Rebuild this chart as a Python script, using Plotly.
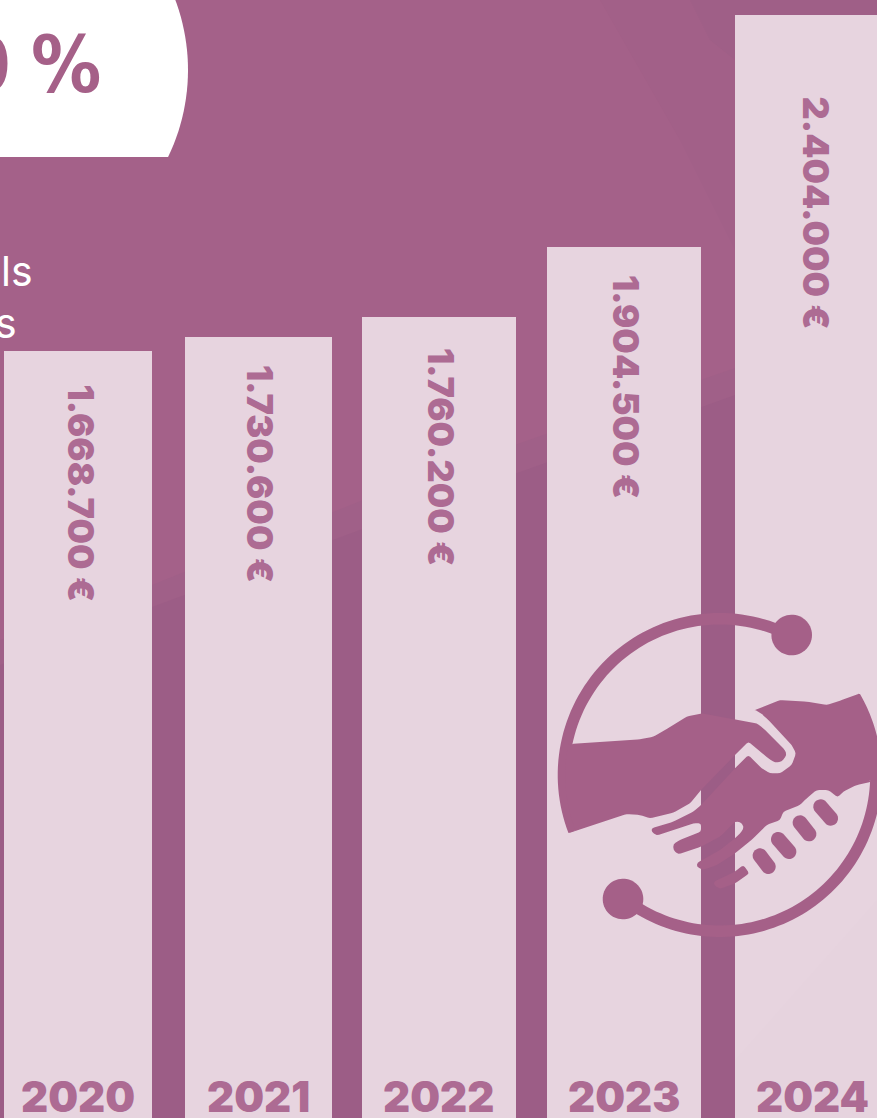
import numpy as np
import plotly.graph_objects as go

# ---- data ----
years = ["2020", "2021", "2022", "2023", "2024"]
value_labels = ["1.668.700 €", "1.730.600 €", "1.760.200 €", "1.904.500 €", "2.404.000 €"]
# bar lengths (the drawn bars are not strictly to scale)
bar_lengths = [1671700, 1702200, 1745800, 1898300, 2404000]

# ---- layout constants (pixels in the 877x1118 page) ----
W, H = 877, 1118
bar_left = [4, 185, 362, 547, 735]
bar_right = [152, 332, 516, 701, 900]
year_x = [78, 258, 438, 624, 812]
label_x = [81, 260, 441, 626, 815]
label_top = [383, 364, 347, 274, 95]
Y_MAX = 2404000 * H / 1103

C_BG = "#a46189"
C_BG_MID = "#a06088"
C_BG_DARK = "#9c5d86"
C_BAR = "#e7d4df"
C_INK = "#a56088"
C_TEXT = "#ad6b93"

def px(x, y):
    return x / W, 1 - y / H

def path(points):
    pts = [px(x, y) for x, y in points]
    return "M" + " L".join(f"{a:.5f},{b:.5f}" for a, b in pts) + " Z"

def z(*pairs):
    return [(540 + a / 3, 600 + b / 3) for a, b in pairs]

def w(*pairs):
    return [(640 + a / 3, 690 + b / 3) for a, b in pairs]

def rounded(points, d=2.5):
    """Soften the corners of a traced outline."""
    out = []
    n = len(points)
    for i in range(n):
        p0, p1, p2 = (np.array(points[(i + k) % n], float) for k in (-1, 0, 1))
        a, b = p0 - p1, p2 - p1
        la, lb = np.hypot(*a), np.hypot(*b)
        if la == 0 or lb == 0:
            continue
        s, e = p1 + a / la * min(d, la / 2), p1 + b / lb * min(d, lb / 2)
        out += [tuple(s), tuple(0.25 * s + 0.5 * p1 + 0.25 * e), tuple(e)]
    return out

CX, CY = 719.7, 775.0

def arc(r, a0, a1, n=70, cx=CX, cy=CY):
    t = np.radians(np.linspace(a0, a1, n))
    return [(cx + r * np.cos(v), cy - r * np.sin(v)) for v in t]

def circle(cx, cy, r):
    return arc(r, 0, 360, 60, cx, cy)

def stadium(p0, p1, width):
    (x0, y0), (x1, y1) = p0, p1
    ang = np.degrees(np.arctan2(-(y1 - y0), x1 - x0))
    r = width / 2
    return arc(r, ang + 90, ang + 270, 16, x0, y0) + arc(r, ang - 90, ang + 90, 16, x1, y1)

fig = go.Figure()
fig.add_trace(go.Bar(
    x=[(a + b) / 2 for a, b in zip(bar_left, bar_right)],
    y=bar_lengths,
    width=[b - a for a, b in zip(bar_left, bar_right)],
    marker=dict(color=C_BAR, line=dict(width=0)),
    hoverinfo="skip",
))

shapes = []
def fill(points, color=C_INK, layer="above"):
    shapes.append(dict(type="path", xref="paper", yref="paper", path=path(points),
                       fillcolor=color, line=dict(width=0), layer=layer))

# tonal patches of the background
fill([(600, 0), (877, 0), (877, 240), (735, 250), (680, 140)], "#a26088", "below")
fill([(690, 0), (877, 0), (877, 15), (735, 15), (735, 60), (710, 40)], "#9f5f87", "below")
fill([(0, 640), (152, 585), (400, 485), (735, 368), (877, 325), (877, 1118), (0, 1118)], C_BG_MID, "below")
fill([(0, 665), (152, 607), (400, 515), (735, 395), (877, 350), (877, 1118), (0, 1118)], C_BG_DARK, "below")
# faint tint towards the lower right of the last bar
fill([(735, 1118), (735, 1060), (877, 900), (877, 1118)], "#e6d3de", "above")

# white badge, cut off at the bottom
fill(arc(200, 90, -25.8, 60, -12, 70) + [(-20, 157), (-20, -20)], "#ffffff")

# handshake icon
R_OUT, R_IN = 162, 150.5
fill(arc(R_OUT, 62, 201) + arc(R_IN, 201, 62))
fill(arc(R_OUT, 232, 360) + arc(R_IN, 360, 232))
fill(circle(791.7, 635, 20.3))
fill(circle(623, 899, 20.3))
left_hand = (
    z((93, 432)) + w((0, 148), (40, 140), (75, 120), (140, 80), (185, 70), (283, 88), (350, 100), (370, 115),
                     (435, 180), (440, 195), (425, 215), (405, 218), (385, 205), (325, 155), (285, 195),
                     (183, 300), (150, 340), (100, 368), (30, 385), (0, 375))
    + z((260, 642), (85, 700))
)
fill(rounded(left_hand) + arc(R_IN + 4, 201, 168, 30))
right_hand = (
    w((340, 62), (420, 30), (500, 35), (560, 45), (600, 32)) + z((960, 280))
)
right_tail = (
    z((995, 545), (950, 555), (910, 575))
    + w((593, 322), (565, 300), (530, 300), (500, 325), (480, 345), (430, 365), (420, 390), (380, 405),
        (340, 445), (285, 490), (230, 525), (190, 540), (170, 530), (172, 518), (240, 480), (285, 445),
        (305, 425), (312, 410), (300, 395), (285, 395), (240, 440), (183, 470), (115, 493), (100, 480),
        (100, 462), (120, 450), (183, 425), (183, 400), (160, 400), (50, 437), (35, 425), (35, 415),
        (100, 395), (160, 365), (183, 345), (285, 235), (325, 195), (365, 235), (390, 250), (420, 250),
        (455, 225), (468, 190), (455, 165), (385, 90), (365, 72))
)
fill(rounded(right_hand) + arc(R_OUT, 30, -2, 30) + rounded(right_tail))
fill(rounded(w((222, 575), (285, 545), (310, 525), (328, 550), (285, 580), (240, 597), (222, 585))))
for a, b in [((360, 497), (385, 530)), ((415, 448), (447, 485)), ((480, 398), (507, 432)), ((542, 350), (572, 385))]:
    fill(stadium(w(a)[0], w(b)[0], 14.7))

ann = []
def text(x, y, s, size, color, family="Inter", weight=900, angle=0, xanchor="center", yanchor="top"):
    ann.append(dict(x=x / W, y=1 - y / H, xref="paper", yref="paper", text=s, showarrow=False,
                    textangle=angle, xanchor=xanchor, yanchor=yanchor, borderpad=0,
                    font=dict(family=family, size=size, color=color, weight=weight)))

for x, y, s in zip(label_x, label_top, value_labels):
    text(x, y, s, 36, C_TEXT, angle=90)
for x, s in zip(year_x, years):
    text(x, 1123, s, 42, C_TEXT, yanchor="bottom")
text(102, 65, "%", 78, C_INK, family="DejaVu Sans Condensed", weight=700, xanchor="right", yanchor="middle")
text(12, 65, "0", 78, C_INK, family="DejaVu Sans Condensed", weight=700, xanchor="right", yanchor="middle")
text(34, 271, "ls", 41, "#ffffff", weight=400, xanchor="right", yanchor="middle")
text(18, 323, "s", 41, "#ffffff", weight=400, xanchor="right", yanchor="middle")

fig.update_layout(
    width=W, height=H, margin=dict(l=0, r=0, t=0, b=0, pad=0),
    paper_bgcolor=C_BG, plot_bgcolor=C_BG, showlegend=False, bargap=0,
    xaxis=dict(visible=False, range=[0, W], fixedrange=True),
    yaxis=dict(visible=False, range=[0, Y_MAX], fixedrange=True),
    shapes=shapes, annotations=ann,
)
fig.write_html("out.html", post_script="document.body.style.margin='0';document.body.style.overflow='hidden';",
               config={"displayModeBar": False})
